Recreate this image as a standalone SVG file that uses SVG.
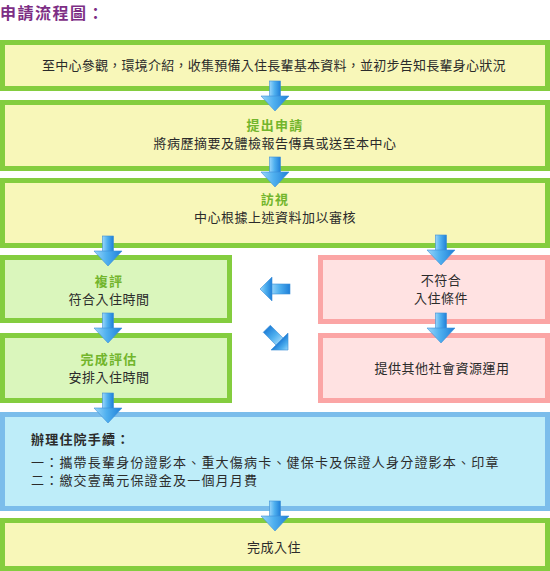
<svg xmlns="http://www.w3.org/2000/svg" width="550" height="571" viewBox="0 0 550 571">
  <defs>
    <linearGradient id="ag" x1="0" y1="0" x2="1" y2="0">
      <stop offset="0" stop-color="#9ad6fa"/>
      <stop offset="0.45" stop-color="#4fb0ef"/>
      <stop offset="1" stop-color="#1f7fd8"/>
    </linearGradient>
    <g id="down">
      <rect x="-5.5" y="0" width="11" height="16" fill="url(#ag)" stroke="#3d8fd6" stroke-width="0.6"/>
      <polygon points="-14,15 14,15 0,30" fill="url(#ag)" stroke="#3d8fd6" stroke-width="0.6"/>
    </g>
    <g id="side">
      <rect x="11" y="-5" width="19" height="10" fill="url(#ag)" stroke="#3d8fd6" stroke-width="0.6"/>
      <polygon points="0,0 12,-12 12,12" fill="url(#ag)" stroke="#3d8fd6" stroke-width="0.6"/>
    </g>
  </defs>
  <style>
    .g { fill: #f8f7b9; stroke: #84cd3f; stroke-width: 5; }
    .lg { fill: #daf6bc; stroke: #84cd3f; stroke-width: 5; }
    .pk { fill: #ffe2e2; stroke: #fba5a5; stroke-width: 5; }
    .bl { fill: #beedf9; stroke: #7bbdeb; stroke-width: 5; }
    text { font-family: "Noto Sans CJK TC", "Noto Sans CJK SC", sans-serif; font-size: 13px; fill: #2b2b2b; }
    .c { text-anchor: middle; letter-spacing: 0.5px; }
    .t { text-anchor: middle; font-weight: bold; fill: #72b52c; letter-spacing: 1.3px; }
    .b { letter-spacing: 1.2px; }
  </style>

  <text x="0" y="19" style="font-size:16px;font-weight:bold;fill:#7d2e85;letter-spacing:1.5px">申請流程圖：</text>

  <g id="step1">
    <rect class="g" x="2.5" y="42.5" width="545" height="46"/>
    <text class="c" x="274" y="70" style="letter-spacing:0.25px">至中心參觀，環境介紹，收集預備入住長輩基本資料，並初步告知長輩身心狀況</text>
  </g>
  <g id="step2">
    <rect class="g" x="2.5" y="102.5" width="545" height="66"/>
    <text class="t" x="275" y="130">提出申請</text>
    <text class="c" x="275" y="148">將病歷摘要及體檢報告傳真或送至本中心</text>
  </g>
  <g id="step3">
    <rect class="g" x="2.5" y="180.5" width="545" height="65"/>
    <text class="t" x="275" y="204">訪視</text>
    <text class="c" x="275" y="222">中心根據上述資料加以審核</text>
  </g>
  <g id="review">
    <rect class="lg" x="2.5" y="257.5" width="227" height="63"/>
    <text class="t" x="109" y="286">複評</text>
    <text class="c" x="109" y="304">符合入住時間</text>
  </g>
  <g id="done-eval">
    <rect class="lg" x="2.5" y="335.5" width="227" height="65"/>
    <text class="t" x="109" y="364">完成評估</text>
    <text class="c" x="109" y="382">安排入住時間</text>
  </g>
  <g id="not-match">
    <rect class="pk" x="320.5" y="257.5" width="227" height="64"/>
    <text class="c" x="441" y="285">不符合</text>
    <text class="c" x="441" y="303">入住條件</text>
  </g>
  <g id="other-resources">
    <rect class="pk" x="320.5" y="335.5" width="227" height="65"/>
    <text class="c" x="442" y="373">提供其他社會資源運用</text>
  </g>
  <g id="procedures">
    <rect class="bl" x="2.5" y="414.5" width="545" height="94"/>
    <text class="b" x="31" y="444" style="font-weight:bold">辦理住院手續：</text>
    <text class="b" x="31" y="467">一：攜帶長輩身份證影本、重大傷病卡、健保卡及保證人身分證影本、印章</text>
    <text class="b" x="31" y="485">二：繳交壹萬元保證金及一個月月費</text>
  </g>
  <g id="final">
    <rect class="g" x="2.5" y="520.5" width="545" height="48"/>
    <text class="c" x="274" y="552">完成入住</text>
  </g>

  <g id="connectors">
    <use href="#down" x="275" y="81"/>
    <use href="#down" x="275" y="157"/>
    <use href="#down" x="108" y="236"/>
    <use href="#down" x="441" y="235"/>
    <use href="#down" x="108" y="313"/>
    <use href="#down" x="441" y="313"/>
    <use href="#down" x="108" y="393"/>
    <use href="#down" x="275" y="501"/>
    <use href="#side" transform="translate(260,289)"/>
    <use href="#side" transform="translate(288,350) rotate(225)"/>
  </g>
</svg>
